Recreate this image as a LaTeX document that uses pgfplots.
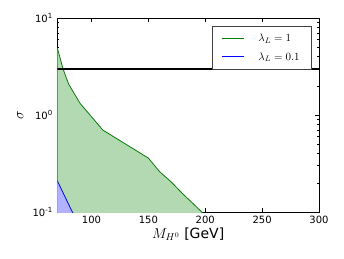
\documentclass[border=0pt]{standalone}
\usepackage[no-math]{fontspec}
\setmainfont{DejaVu Sans}
\usepackage{pgfplots}
\pgfplotsset{compat=1.18}
\definecolor{mgreen}{rgb}{0,0.5,0}
\definecolor{gfill}{rgb}{0.70,0.85,0.70}
\definecolor{bfill}{rgb}{0.70,0.70,1.0}
\begin{document}
\begin{tikzpicture}
\begin{axis}[
  at={(0,0)}, anchor=south west,
  scale only axis, width=261.7pt, height=194pt,
  xmin=70, xmax=300, ymode=log, ymin=0.1, ymax=10,
  xtick={100,150,200,250,300},
  xticklabels={100,150,200,250,300},
  ytick={0.1,1,10},
  yticklabels={10\textsuperscript{-1},10\textsuperscript{0},10\textsuperscript{1}},
  minor ytick={0.2,0.3,0.4,0.5,0.6,0.7,0.8,0.9,2,3,4,5,6,7,8,9},
  tick align=inside,
  major tick length=4pt, minor tick length=2pt,
  every tick/.style={black, line width=0.5pt},
  axis line style={line width=0.8pt},
  ticklabel style={font=\fontsize{10}{12}\selectfont},
  xticklabel style={yshift=-1pt},
  yticklabel style={xshift=-1pt},
  xlabel={$M_{H^0}$ [GeV]},
  ylabel={$\sigma$},
  label style={font=\fontsize{14}{16}\selectfont},
  xlabel style={at={(axis description cs:0.5,0)}, anchor=center, yshift=-22pt},
  ylabel style={at={(axis description cs:0,0.5)}, anchor=center, yshift=37pt},
  legend style={at={(1,1)}, anchor=north east, xshift=-7pt, yshift=-8pt,
    draw=black!75, line width=0.6pt, font=\fontsize{11}{13}\selectfont,
    cells={anchor=west}, row sep=5pt, inner xsep=10pt, inner ysep=6pt,
    /tikz/every odd column/.append style={column sep=12pt}},
  legend cell align=left,
]
\addplot[fill=gfill, draw=none, forget plot] coordinates {
  (70,4.94) (75,3.0) (80,2.08) (90,1.32) (110,0.70) (150,0.36)
  (160,0.26) (170,0.205) (180,0.155) (190,0.12) (197,0.1) (201,0.085)
  (201,0.05) (70,0.05) (70,4.94)};
\addplot[fill=bfill, draw=none, forget plot] coordinates {
  (70,0.21) (83.2,0.1) (85,0.092) (85,0.05) (70,0.05) (70,0.21)};
\addplot[draw=mgreen, line width=0.8pt, forget plot] coordinates {
  (70,4.94) (75,3.0) (80,2.08) (90,1.32) (110,0.70) (150,0.36)
  (160,0.26) (170,0.205) (180,0.155) (190,0.12) (197,0.1) (201,0.085)};
\addplot[draw=blue, line width=0.8pt, forget plot] coordinates {(70,0.21) (83.2,0.1) (85,0.092)};
\addplot[draw=black, line width=1.6pt, forget plot] coordinates {(70,3) (300,3)};
\addlegendimage{legend image code/.code={\node[inner sep=0pt, anchor=west] at (0pt,0pt) {\textcolor{mgreen}{\rule[-0.35pt]{22pt}{0.7pt}}};}}
\addlegendentry{$\lambda_L = 1$}
\addlegendimage{legend image code/.code={\node[inner sep=0pt, anchor=west] at (0pt,0pt) {\textcolor{blue}{\rule[-0.35pt]{22pt}{0.7pt}}};}}
\addlegendentry{$\lambda_L = 0.1$}
\end{axis}
\pgfresetboundingbox
\path (-57.3pt,-46pt) rectangle (286.7pt,212pt);
\end{tikzpicture}
\end{document}
